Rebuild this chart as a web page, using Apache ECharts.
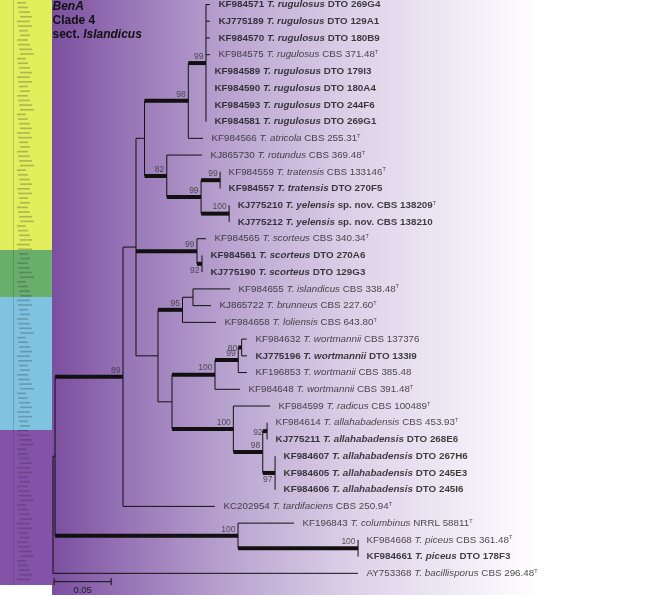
<!DOCTYPE html>
<html><head><meta charset="utf-8">
<script src="https://cdn.jsdelivr.net/npm/echarts@6/dist/echarts.min.js"></script>
<style>html,body{margin:0;padding:0;background:#fff}#c{width:664px;height:595px}</style>
</head><body><div id="c"></div>
<script>
// ---------- DATA ----------
const leafAccession = ['KF984571','KJ775189','KF984570','KF984575','KF984589','KF984590','KF984593','KF984581','KF984566','KJ865730','KF984559','KF984557','KJ775210','KJ775212','KF984565','KF984561','KJ775190','KF984655','KJ865722','KF984658','KF984632','KJ775196','KF196853','KF984648','KF984599','KF984614','KJ775211','KF984607','KF984605','KF984606','KC202954','KF196843','KF984668','KF984661','AY753368'];
const leafSpecies = ['T. rugulosus','T. rugulosus','T. rugulosus','T. rugulosus','T. rugulosus','T. rugulosus','T. rugulosus','T. rugulosus','T. atricola','T. rotundus','T. tratensis','T. tratensis','T. yelensis','T. yelensis','T. scorteus','T. scorteus','T. scorteus','T. islandicus','T. brunneus','T. loliensis','T. wortmannii','T. wortmannii','T. wortmanii','T. wortmannii','T. radicus','T. allahabadensis','T. allahabadensis','T. allahabadensis','T. allahabadensis','T. allahabadensis','T. tardifaciens','T. columbinus','T. piceus','T. piceus','T. bacillisporus'];
const leafNote = ['','','','','','','','','','','','','sp. nov.','sp. nov.','','','','','','','','','','','','','','','','','','','','',''];
const leafStrain = ['DTO 269G4','DTO 129A1','DTO 180B9','CBS 371.48','DTO 179I3','DTO 180A4','DTO 244F6','DTO 269G1','CBS 255.31','CBS 369.48','CBS 133146','DTO 270F5','CBS 138209','CBS 138210','CBS 340.34','DTO 270A6','DTO 129G3','CBS 338.48','CBS 227.60','CBS 643.80','CBS 137376','DTO 133I9','CBS 385.48','CBS 391.48','CBS 100489','CBS 453.93','DTO 268E6','DTO 267H6','DTO 245E3','DTO 245I6','CBS 250.94','NRRL 58811','CBS 361.48','DTO 178F3','CBS 296.48'];
const leafIsType = [0,0,0,1,0,0,0,0,1,1,1,0,1,0,1,0,0,1,1,1,0,0,0,1,1,1,0,0,0,0,1,1,1,0,1];
const leafIsNewStrain = [1,1,1,0,1,1,1,1,0,0,0,1,1,1,0,1,1,0,0,0,0,1,0,0,0,0,1,1,1,1,0,0,0,1,0];
const leafParent = ['N99a','N99a','N99a','N99a','N99a','N99a','N99a','N99a','N98','N82','N99c','N99c','N100y','N100y','S','T','T','I','I','N95','W3','W3','W2','W','AL','AL3','AL3','AL4','AL4','AL4','A','P','Q','Q','root'];
const leafBranch = [0.0035,0.0035,0.0035,0.0035,0,0,0,0,0.0129,0.0310,0,0,0,0,0.0079,0,0,0.0325,0.0158,0.0294,0.0046,0.0046,0.0076,0.0219,0.0322,0,0,0,0,0,0.0807,0.0491,0,0,0.2675];

const nodeIds     = ['root','R2','A','B','C','N98','N99a','N82','N99b','N99c','N100y','S','T','D','N95','I','E','W','W2','W3','AL','AL2','AL3','AL4','P','Q'];
const nodeParent  = [null,'root','R2','A','B','C','N98','C','N82','N99b','N99b','B','S','B','D','N95','D','E','W','W2','E','AL','AL2','AL2','R2','P'];
const nodeBranch  = [0,0.0018,0.0596,0.0114,0.0075,0.0384,0.0155,0.0195,0.0301,0.0167,0.0246,0.0535,0.0044,0.0193,0.0215,0.0092,0.0123,0.0377,0.0204,0.0030,0.0538,0.0258,0.0038,0.0108,0.1605,0.1053];
const nodeSupport = [null,null,89,null,null,98,99,82,99,99,100,99,92,null,95,null,null,100,99,80,100,98,92,97,100,100];

const scaleBarLength = 0.05;
const scaleBarLabel = '0.05';
const headerLines = ['BenA','Clade 4','sect. Islandicus'];

// ---------- TREE LAYOUT (data units) ----------
const depth = {}, ypos = {}, kids = {};
nodeIds.forEach(id => kids[id] = []);
leafParent.forEach((p, i) => kids[p].push('L' + i));
nodeParent.forEach((p, j) => { if (p) kids[p].push(nodeIds[j]); });
const parentOf = {}, branchOf = {};
leafParent.forEach((p, i) => { parentOf['L' + i] = p; branchOf['L' + i] = leafBranch[i]; ypos['L' + i] = i + 1; });
nodeIds.forEach((id, j) => { parentOf[id] = nodeParent[j]; branchOf[id] = nodeBranch[j]; });
function getDepth(id) {
  if (depth[id] !== undefined) return depth[id];
  const p = parentOf[id];
  depth[id] = p ? getDepth(p) + branchOf[id] : 0;
  return depth[id];
}
function getY(id) {
  if (ypos[id] !== undefined) return ypos[id];
  const ys = kids[id].map(getY);
  ypos[id] = (Math.min(...ys) + Math.max(...ys)) / 2;
  return ypos[id];
}
nodeIds.forEach(id => { getDepth(id); getY(id); });
leafParent.forEach((p, i) => getDepth('L' + i));

const segs = []; // [x1,y1,x2,y2,width]
Object.keys(parentOf).forEach(id => {
  const p = parentOf[id];
  if (!p) return;
  if (branchOf[id] <= 0) return;
  const j = nodeIds.indexOf(id);
  const bold = j >= 0 && nodeSupport[j] != null;
  segs.push([depth[p], ypos[id], depth[id], ypos[id], bold ? 4 : 1]);
});
nodeIds.forEach(id => {
  const ys = kids[id].map(k => ypos[k]);
  segs.push([depth[id], Math.min(...ys), depth[id], Math.max(...ys), 1]);
});

const labelPlace = { T: 'below', AL4: 'below', AL3: 'level', W3: 'level' };
const supportData = [];
nodeIds.forEach((id, j) => {
  if (nodeSupport[j] == null) return;
  const pl = labelPlace[id];
  let pos = [-2, -6];
  if (pl === 'below') pos = [-2, 7];
  if (pl === 'level') pos = [-4, 2];
  supportData.push({ value: [depth[id], ypos[id]], label: { formatter: String(nodeSupport[j]), position: pos } });
});

const leafData = leafAccession.map((a, i) => [depth['L' + i], ypos['L' + i]]);
function leafText(i) {
  const b = leafIsNewStrain[i] ? 'B' : '';
  let s = '{a' + b + '|' + leafAccession[i] + ' }{s' + b + '|' + leafSpecies[i] + ' }';
  if (leafNote[i]) s += '{a' + b + '|' + leafNote[i] + ' }';
  s += '{a' + b + '|' + leafStrain[i] + '}';
  if (leafIsType[i]) s += '{t|T}';
  return s;
}

// faint thumbnail texture in the left colour strip (decorative)
const thumb = [];
for (let k = 0; k < 125; k++) {
  const yy = 2 + k * 4.65;
  const w = 9 + ((k * 7) % 6);
  thumb.push({ type: 'rect', z: -8, silent: true, shape: { x: 17 + ((k * 5) % 4), y: yy, width: w, height: 1.6 },
    style: { fill: 'rgba(40,40,60,0.28)' } });
}
thumb.push({ type: 'rect', z: -8, silent: true, shape: { x: 13, y: 0, width: 0.8, height: 585 }, style: { fill: 'rgba(40,40,60,0.25)' } });

const FONT = '"Liberation Sans", Arial, sans-serif';
const FS = 9.8;
const chart = echarts.init(document.getElementById('c'), null, { renderer: 'canvas' });
chart.setOption({
  animation: false,
  backgroundColor: '#ffffff',
  grid: { left: 53, top: 4.5, width: 570, height: 585.55 },
  xAxis: { type: 'value', min: 0, max: 0.5, show: false },
  yAxis: { type: 'value', min: 1, max: 36, inverse: true, show: false },
  graphic: [
    { type: 'rect', z: -10, shape: { x: 52, y: 0, width: 612, height: 595 },
      style: { fill: { type: 'linear', x: 0, y: 0, x2: 1, y2: 0, colorStops: [
        { offset: 0, color: '#7b4f9f' }, { offset: 0.12, color: '#9774b6' },
        { offset: 0.3, color: '#bba6d1' }, { offset: 0.5, color: '#ddd3e9' },
        { offset: 0.7, color: '#f4f0f8' }, { offset: 0.8, color: '#ffffff' }, { offset: 1, color: '#ffffff' } ] } } },
    { type: 'rect', z: -9, shape: { x: 0, y: 0, width: 52, height: 250 }, style: { fill: '#e2ee5c' } },
    { type: 'rect', z: -9, shape: { x: 0, y: 250, width: 52, height: 47 }, style: { fill: '#6aae6c' } },
    { type: 'rect', z: -9, shape: { x: 0, y: 297, width: 52, height: 133 }, style: { fill: '#80c3e0' } },
    { type: 'rect', z: -9, shape: { x: 0, y: 430, width: 52, height: 155 }, style: { fill: '#8452a8' } },
    ...thumb,
    { type: 'text', z: 10, x: 52.5, y: 0,
      style: { text: '{bi|' + headerLines[0] + '}\n{b|' + headerLines[1] + '}\n{b|sect. }{bi|Islandicus}',
        rich: { b: { fontFamily: FONT, fontSize: 12, fontWeight: 'bold', fill: '#111', lineHeight: 14 },
                bi: { fontFamily: FONT, fontSize: 12, fontWeight: 'bold', fontStyle: 'italic', fill: '#111', lineHeight: 14 } } } }
  ],
  series: [
    { type: 'custom', coordinateSystem: 'cartesian2d', silent: true, z: 3,
      data: segs,
      encode: { x: [0, 2], y: [1, 3] },
      renderItem: function (params, api) {
        const p1 = api.coord([api.value(0), api.value(1)]);
        const p2 = api.coord([api.value(2), api.value(3)]);
        return { type: 'line', shape: { x1: p1[0], y1: p1[1], x2: p2[0], y2: p2[1] },
          style: { stroke: '#111', lineWidth: api.value(4), lineCap: 'butt' } };
      } },
    { type: 'scatter', symbolSize: 1, itemStyle: { color: 'rgba(0,0,0,0)' }, silent: true, z: 4,
      data: leafData,
      label: { show: true, position: 'right', distance: 8,
        formatter: p => leafText(p.dataIndex),
        rich: {
          a: { fontFamily: FONT, fontSize: FS, color: '#222' },
          aB: { fontFamily: FONT, fontSize: FS, fontWeight: 'bold', color: '#111' },
          s: { fontFamily: FONT, fontSize: FS, fontStyle: 'italic', color: '#222' },
          sB: { fontFamily: FONT, fontSize: FS, fontWeight: 'bold', fontStyle: 'italic', color: '#111' },
          t: { fontFamily: FONT, fontSize: 5.5, color: '#222', verticalAlign: 'top', lineHeight: 8 }
        } } },
    { type: 'scatter', symbolSize: 1, itemStyle: { color: 'rgba(0,0,0,0)' }, silent: true, z: 4,
      data: supportData,
      label: { show: true, align: 'right', verticalAlign: 'middle', fontFamily: FONT, fontSize: 8.5, color: '#333' } },
    { type: 'custom', coordinateSystem: 'cartesian2d', silent: true, z: 3,
      data: [[0.001, 35.5, scaleBarLength]],
      renderItem: function (params, api) {
        const x0 = api.value(0), y = api.value(1), L = api.value(2);
        const a = api.coord([x0, y]), b = api.coord([x0 + L, y]);
        const st = { stroke: '#111', lineWidth: 1 };
        return { type: 'group', children: [
          { type: 'line', shape: { x1: a[0], y1: a[1], x2: b[0], y2: b[1] }, style: st },
          { type: 'line', shape: { x1: a[0], y1: a[1] - 3.5, x2: a[0], y2: a[1] + 3.5 }, style: st },
          { type: 'line', shape: { x1: b[0], y1: b[1] - 3.5, x2: b[0], y2: b[1] + 3.5 }, style: st },
          { type: 'text', x: (a[0] + b[0]) / 2, y: a[1] + 9,
            style: { text: scaleBarLabel, fill: '#222', font: '9.5px ' + FONT, textAlign: 'center', textVerticalAlign: 'middle' } }
        ] };
      } }
  ]
});
</script></body></html>
